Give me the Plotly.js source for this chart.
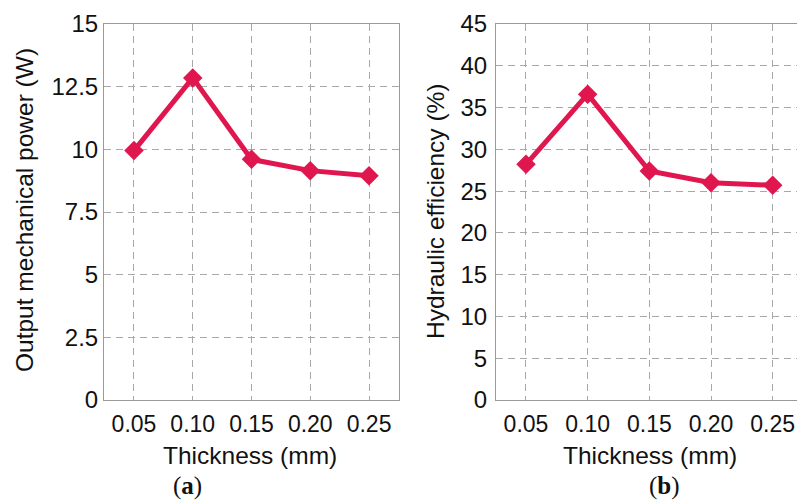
<!DOCTYPE html>
<html>
<head>
<meta charset="utf-8">
<script src="https://cdn.plot.ly/plotly-3.0.1.min.js"></script>
<style>html,body{margin:0;padding:0;background:#fff;}#chart{width:797px;height:504px;}</style>
</head>
<body>
<div id="chart"></div>
<script>
// Data
var thickness = [0.05, 0.10, 0.15, 0.20, 0.25];
var thicknessLabels = ["0.05", "0.10", "0.15", "0.20", "0.25"];
var outputPower = [9.95, 12.85, 9.6, 9.15, 8.95];
var hydraulicEfficiency = [28.2, 36.6, 27.4, 26.0, 25.7];
var powerTicks = [0, 2.5, 5, 7.5, 10, 12.5, 15];
var powerTickLabels = ["0", "2.5", "5", "7.5", "10", "12.5", "15"];
var effTicks = [0, 5, 10, 15, 20, 25, 30, 35, 40, 45];

var lineColor = '#e0174f';
var W = 797, H = 504;
function px(x) { return x / W; }
function py(y) { return (H - y) / H; }

var traceStyle = {
  mode: 'lines+markers',
  line: {color: lineColor, width: 5},
  marker: {symbol: 'diamond', size: 15, color: lineColor},
  showlegend: false,
  hoverinfo: 'x+y'
};

var t1 = Object.assign({x: thickness, y: outputPower, xaxis: 'x', yaxis: 'y'}, traceStyle);
var t2 = Object.assign({x: thickness, y: hydraulicEfficiency, xaxis: 'x2', yaxis: 'y2'}, traceStyle);

var xTickFont = {family: 'Liberation Sans, Arial, sans-serif', size: 23, color: '#111'};
var yTickFont = {family: 'Liberation Sans, Arial, sans-serif', size: 24, color: '#111'};
var titleFont = {family: 'Liberation Sans, Arial, sans-serif', size: 24.5, color: '#111'};
var axisCommon = {
  showline: true, linecolor: '#9a9a9a', linewidth: 1, mirror: true,
  showgrid: true, gridcolor: '#a8a8a8', gridwidth: 1, griddash: '7px,5px',
  zeroline: false, ticks: '', automargin: false, fixedrange: true
};

var layout = {
  width: W, height: H,
  margin: {l: 0, r: 0, t: 0, b: 0},
  paper_bgcolor: '#ffffff', plot_bgcolor: '#ffffff',
  showlegend: false,
  xaxis: Object.assign({}, axisCommon, {
    domain: [px(104), px(399)], range: [0.0245, 0.2755],
    tickmode: 'array', tickvals: thickness, ticktext: thicknessLabels,
    anchor: 'y', ticklabelstandoff: 3, tickfont: xTickFont
  }),
  yaxis: Object.assign({}, axisCommon, {
    domain: [py(400), py(24)], range: [0, 15],
    tickmode: 'array', tickvals: powerTicks, ticktext: powerTickLabels,
    anchor: 'x', ticklabelstandoff: 0, tickfont: yTickFont
  }),
  xaxis2: Object.assign({}, axisCommon, {
    domain: [px(496), 1], range: [0.0257, 0.2697],
    tickmode: 'array', tickvals: thickness, ticktext: thicknessLabels,
    anchor: 'y2', ticklabelstandoff: 3, tickfont: xTickFont
  }),
  yaxis2: Object.assign({}, axisCommon, {
    domain: [py(400), py(24)], range: [0, 45],
    tickmode: 'array', tickvals: effTicks,
    anchor: 'x2', ticklabelstandoff: 3, tickfont: yTickFont
  }),
  annotations: [
    {text: 'Thickness (mm)', xref: 'paper', yref: 'paper', x: px(250), y: py(455),
     xanchor: 'center', yanchor: 'middle', showarrow: false, font: titleFont},
    {text: 'Thickness (mm)', xref: 'paper', yref: 'paper', x: px(650), y: py(455),
     xanchor: 'center', yanchor: 'middle', showarrow: false, font: titleFont},
    {text: 'Output mechanical power (W)', xref: 'paper', yref: 'paper', x: px(25), y: py(210),
     xanchor: 'center', yanchor: 'middle', textangle: -90, showarrow: false, font: titleFont},
    {text: 'Hydraulic efficiency (%)', xref: 'paper', yref: 'paper', x: px(436), y: py(211),
     xanchor: 'center', yanchor: 'middle', textangle: -90, showarrow: false, font: titleFont},
    {text: '(<b>a</b>)', xref: 'paper', yref: 'paper', x: px(187), y: py(486),
     xanchor: 'center', yanchor: 'middle', showarrow: false,
     font: {family: 'Liberation Serif, Times New Roman, serif', size: 25, color: '#111'}},
    {text: '(<b>b</b>)', xref: 'paper', yref: 'paper', x: px(664), y: py(486),
     xanchor: 'center', yanchor: 'middle', showarrow: false,
     font: {family: 'Liberation Serif, Times New Roman, serif', size: 25, color: '#111'}}
  ]
};

Plotly.newPlot('chart', [t1, t2], layout, {displayModeBar: false, staticPlot: true});
</script>
</body>
</html>
